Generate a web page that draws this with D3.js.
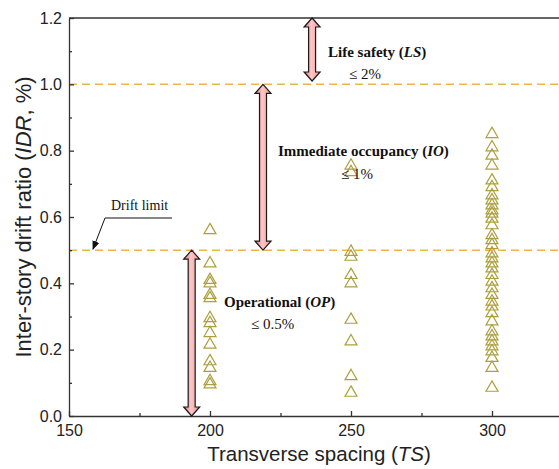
<!DOCTYPE html>
<html>
<head>
<meta charset="utf-8">
<script src="https://cdn.jsdelivr.net/npm/d3@7"></script>
<style>
  html, body { margin: 0; padding: 0; background: #fff; }
  svg { display: block; }
</style>
</head>
<body>
<svg id="chart" width="559" height="469"></svg>
<script>
// Inter-story drift ratio for each transverse spacing
const spacings = [200, 250, 300];
const idr200 = [0.56, 0.46, 0.41, 0.40, 0.365, 0.355, 0.295, 0.28, 0.25, 0.215, 0.165, 0.145, 0.105, 0.095];
const idr250 = [0.755, 0.735, 0.495, 0.48, 0.425, 0.40, 0.29, 0.225, 0.12, 0.07];
const idr300 = [0.85, 0.81, 0.785, 0.755, 0.71, 0.69, 0.665, 0.65, 0.635, 0.62, 0.61, 0.595,
                0.575, 0.545, 0.53, 0.515, 0.49, 0.475, 0.46, 0.445, 0.425, 0.405, 0.385,
                0.365, 0.345, 0.33, 0.31, 0.285, 0.255, 0.24, 0.225, 0.21, 0.195, 0.175,
                0.145, 0.085];
const idrSeries = [idr200, idr250, idr300];

// Axis ticks
const xMajor = [150, 200, 250, 300];
const xMinor = [175, 225, 275];
const yMajor = [0, 0.2, 0.4, 0.6, 0.8, 1.0, 1.2];
const yMinor = [0.1, 0.3, 0.5, 0.7, 0.9, 1.1];

// Performance levels: limit lines and range arrows (x position, from, to)
const limitLines = [1.0, 0.5];
const levelArrows = [
  { x: 236.2, from: 1.2, to: 1.01 },
  { x: 218.8, from: 1.0, to: 0.5 },
  { x: 193.5, from: 0.5, to: 0.0 }
];

const svg = d3.select("#chart");
const plotLeft = 69, plotTop = 18, plotBottom = 416;

const x = d3.scaleLinear().domain([150, 324]).range([plotLeft, plotLeft + 174 * 2.82]);
const y = d3.scaleLinear().domain([0, 1.2]).range([plotBottom, plotTop]);

const sans = "'Liberation Sans', Arial, sans-serif";
const serif = "'Liberation Serif', 'Times New Roman', serif";

// Gradient for the range arrows
const defs = svg.append("defs");
const grad = defs.append("linearGradient").attr("id", "pinkGrad")
  .attr("x1", "0").attr("x2", "1").attr("y1", "0").attr("y2", "0");
grad.append("stop").attr("offset", "0").attr("stop-color", "#e26c6c");
grad.append("stop").attr("offset", "0.45").attr("stop-color", "#fcc8c8");
grad.append("stop").attr("offset", "1").attr("stop-color", "#f09292");

defs.append("marker").attr("id", "blackHead")
  .attr("viewBox", "0 0 10 10").attr("refX", 9).attr("refY", 5)
  .attr("markerWidth", 9).attr("markerHeight", 9).attr("orient", "auto")
  .attr("markerUnits", "userSpaceOnUse")
  .append("path").attr("d", "M0,1 L10,5 L0,9 Z").attr("fill", "#111");

// Dashed limit lines
svg.append("g").selectAll("line").data(limitLines).join("line")
  .attr("x1", x(150)).attr("x2", x(324))
  .attr("y1", d => y(d)).attr("y2", d => y(d))
  .attr("stroke", "#efb446").attr("stroke-width", 1.5)
  .attr("stroke-dasharray", "8,5");

// Axes
svg.append("g").attr("transform", `translate(${plotLeft},0)`)
  .call(d3.axisLeft(y).tickValues(yMajor).tickFormat(d3.format(".1f"))
    .tickSizeInner(-5).tickSizeOuter(0).tickPadding(7));
svg.append("g").attr("transform", `translate(${plotLeft},0)`)
  .call(d3.axisLeft(y).tickValues(yMinor).tickFormat("").tickSizeInner(-3).tickSizeOuter(0))
  .select(".domain").remove();

svg.append("g").attr("transform", `translate(0,${plotBottom})`)
  .call(d3.axisBottom(x).tickValues(xMajor).tickFormat(d3.format("d"))
    .tickSizeInner(-5).tickSizeOuter(0).tickPadding(9));
svg.append("g").attr("transform", `translate(0,${plotBottom})`)
  .call(d3.axisBottom(x).tickValues(xMinor).tickFormat("").tickSizeInner(-3).tickSizeOuter(0))
  .select(".domain").remove();

svg.selectAll(".tick text").attr("font-family", sans).attr("font-size", 16).attr("fill", "#222");
svg.selectAll(".domain, .tick line").attr("stroke", "#333").attr("stroke-width", 1.3);

// Top frame line
svg.append("line").attr("x1", x(150)).attr("x2", x(324))
  .attr("y1", y(1.2)).attr("y2", y(1.2))
  .attr("stroke", "#333").attr("stroke-width", 1.3);

// Axis titles
const xt = svg.append("text").attr("x", 319).attr("y", 461)
  .attr("text-anchor", "middle").attr("font-family", sans).attr("font-size", 20.5).attr("fill", "#222");
xt.append("tspan").text("Transverse spacing (");
xt.append("tspan").attr("font-style", "italic").text("TS");
xt.append("tspan").text(")");

const yt = svg.append("text").attr("transform", "translate(31,217) rotate(-90)")
  .attr("text-anchor", "middle").attr("font-family", sans).attr("font-size", 22).attr("fill", "#222");
yt.append("tspan").text("Inter-story drift ratio (");
yt.append("tspan").attr("font-style", "italic").text("IDR");
yt.append("tspan").text(", %)");

// Double-headed range arrows
function doubleArrow(cx, y1, y2) {
  const hw = 8, sw = 3.5, hl = 9;
  return `M${cx},${y1} L${cx + hw},${y1 + hl} L${cx + sw},${y1 + hl} L${cx + sw},${y2 - hl}
          L${cx + hw},${y2 - hl} L${cx},${y2} L${cx - hw},${y2 - hl} L${cx - sw},${y2 - hl}
          L${cx - sw},${y1 + hl} L${cx - hw},${y1 + hl} Z`;
}
svg.append("g").selectAll("path").data(levelArrows).join("path")
  .attr("d", d => doubleArrow(x(d.x), y(d.from), y(d.to)))
  .attr("fill", "url(#pinkGrad)").attr("stroke", "#1a1a1a").attr("stroke-width", 1.2)
  .attr("stroke-linejoin", "miter");

// Data points
const tri = d3.symbol(d3.symbolTriangle, 62);
const pts = spacings.flatMap((s, i) => idrSeries[i].map(v => ({ s, v })));
svg.append("g").selectAll("path").data(pts).join("path")
  .attr("d", tri)
  .attr("transform", d => `translate(${x(d.s)},${y(d.v)})`)
  .attr("fill", "none").attr("stroke", "#ad9f3e").attr("stroke-width", 1.2);

// Level annotations
function label(px, py, parts, bold) {
  const t = svg.append("text").attr("x", px).attr("y", py)
    .attr("font-family", serif).attr("font-size", 15).attr("fill", "#111")
    .attr("font-weight", bold ? "bold" : "normal");
  parts.forEach(p => t.append("tspan").attr("font-style", p[1] ? "italic" : "normal").text(p[0]));
}
label(328, 57, [["Life safety ("], ["LS", true], [")"]], true);
label(349, 79, [["≤ 2%"]], false);
label(278, 156, [["Immediate occupancy ("], ["IO", true], [")"]], true);
label(341, 179, [["≤ 1%"]], false);
label(224, 307, [["Operational ("], ["OP", true], [")"]], true);
label(251, 329, [["≤ 0.5%"]], false);

// Drift limit callout
svg.append("text").attr("x", 111).attr("y", 210)
  .attr("font-family", serif).attr("font-size", 14).attr("fill", "#111")
  .text("Drift limit");
svg.append("path")
  .attr("d", `M172,218 L105,218 L${x(158.5)},${y(0.5) - 1}`)
  .attr("fill", "none").attr("stroke", "#111").attr("stroke-width", 1)
  .attr("marker-end", "url(#blackHead)");
</script>
</body>
</html>
